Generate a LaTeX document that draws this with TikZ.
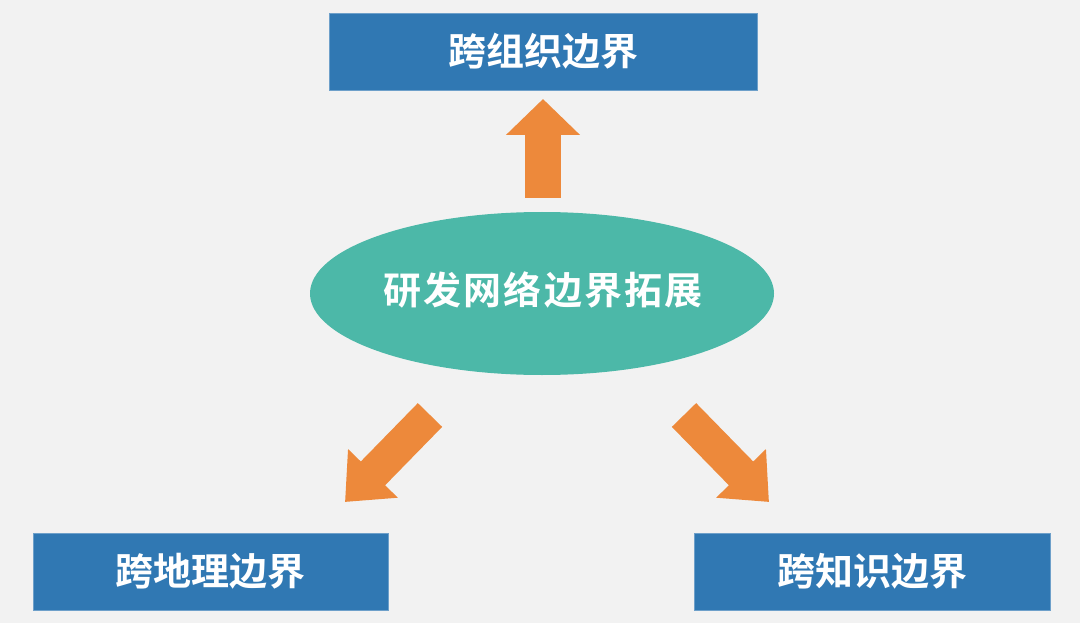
\documentclass[tikz,border=0pt]{standalone}
\usepackage{fontspec}
\newfontfamily\cjk{Noto Sans CJK SC}[BoldFont={* Bold}]
\usetikzlibrary{arrows.meta,shapes.geometric}
\definecolor{bg}{HTML}{F2F2F2}
\definecolor{boxblue}{HTML}{3078B3}
\definecolor{teal}{HTML}{4CB8A8}
\definecolor{orng}{HTML}{ED893B}
\tikzset{
  bbox/.style={rectangle, fill=boxblue, draw=boxblue!70!white, line width=0.8pt, minimum height=77pt, inner sep=0pt, text=white, font=\cjk\bfseries\fontsize{38}{40}\selectfont},
  oval/.style={ellipse, fill=teal, minimum width=464pt, minimum height=163pt, inner sep=0pt, text=white, font=\cjk\bfseries\fontsize{38}{40}\selectfont},
  fatarrow/.style={draw=orng, line width=36pt, -{Triangle[width=72pt,length=36pt]}, orng},
  diagarrow/.style={draw=orng, line width=34pt, -{Triangle[width=67pt,length=40pt]}, orng}
}
\begin{document}
\begin{tikzpicture}[x=1pt,y=-1pt]
\fill[bg] (0,0) rectangle (1080,623);
\useasboundingbox (0,0) rectangle (1080,623);
\node[bbox, minimum width=428pt] (org) at (543,51.5) {跨组织边界};
\node[bbox, minimum width=355pt] (geo) at (210.5,571.5) {跨地理边界};
\node[bbox, minimum width=356pt] (know) at (872,571.5) {跨知识边界};
\node[oval] (core) at (542,293.5) {};
\node[text=white, font=\cjk\bfseries\fontsize{38}{40}\selectfont, inner sep=0pt] (coretext) at (543,290) {\addfontfeature{LetterSpace=6}研发网络边界拓展};
\coordinate (t1) at (543,198);
\coordinate (h1) at (543,99);
\coordinate (t2) at (430,415);
\coordinate (h2) at (345,502);
\coordinate (t3) at (684,415);
\coordinate (h3) at (769,502);
\draw[fatarrow] (t1) -- (h1);
\draw[diagarrow] (t2) -- (h2);
\draw[diagarrow] (t3) -- (h3);
\end{tikzpicture}
\end{document}
